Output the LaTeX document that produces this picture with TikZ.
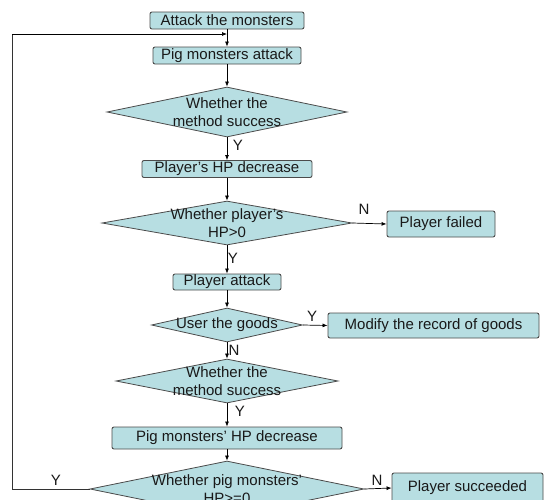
\documentclass[tikz,border=0pt]{standalone}
\usepackage{fontspec}
\setmainfont{Liberation Sans}
\usetikzlibrary{shapes.geometric,arrows.meta}
\definecolor{boxfill}{RGB}{183,222,226}
\definecolor{boxline}{RGB}{75,75,75}
\definecolor{txt}{RGB}{25,25,25}
\begin{document}
\begin{tikzpicture}[x=1pt,y=-1pt,
  every node/.style={font=\fontsize{15}{18}\selectfont, text=txt},
  procbox/.style={draw=boxline, fill=boxfill, line width=0.9pt, rounded corners=2pt, inner sep=0pt},
  decbox/.style={draw=boxline, fill=boxfill, line width=0.8pt, diamond, inner sep=0pt},
  dtext/.style={align=center, inner sep=0pt},
  lbl/.style={inner sep=0pt},
  arr/.style={draw=black, line width=0.7pt, -{Latex[length=5pt,width=4pt]}},
  ln/.style={draw=black!80, line width=0.9pt}]
\useasboundingbox (0,0) rectangle (544,499);
\clip (0,0) rectangle (544,499);
\fill[white] (0,0) rectangle (544,499);

\node[procbox, minimum width=154pt, minimum height=17pt] (a1) at (227,20.5) {Attack the monsters};
\node[procbox, minimum width=148pt, minimum height=17pt] (a2) at (227,55.5) {Pig monsters attack};
\node[decbox, minimum width=240pt, minimum height=50pt] (d1) at (227,112) {};
\node[dtext] (t1) at (d1) {Whether the\\method success};
\node[procbox, minimum width=170pt, minimum height=17pt] (b1) at (227,169) {Player’s HP decrease};
\node[decbox, minimum width=250pt, minimum height=44pt] (d2) at (227,223) {};
\node[dtext] (t2) at (d2) {Whether player’s\\HP>0};
\node[procbox, minimum width=108pt, minimum height=26pt] (f) at (441,224) {Player failed};
\node[procbox, minimum width=108pt, minimum height=16pt] (b2) at (227,282) {Player attack};
\node[decbox, minimum width=151pt, minimum height=34pt] (d3) at (227,325) {};
\node[dtext] (t3) at (d3) {User the goods};
\node[procbox, minimum width=211pt, minimum height=25pt] (m) at (433.5,325.5) {Modify the record of goods};
\node[decbox, minimum width=222pt, minimum height=44pt] (d4) at (227,381) {};
\node[dtext] (t4) at (d4) {Whether the\\method success};
\node[procbox, minimum width=230pt, minimum height=22pt] (b3) at (227,438) {Pig monsters’ HP decrease};
\node[decbox, minimum width=274pt, minimum height=56pt] (d5) at (227,489) {};
\node[dtext] (t5) at (d5) {Whether pig monsters’\\HP>=0};
\node[procbox, minimum width=151pt, minimum height=30pt] (s) at (467.5,488) {Player succeeded};

\coordinate (j) at (227,34);
\coordinate (c1) at (12,489);
\coordinate (c2) at (12,34);

\draw[arr] (a1.south) -- (a2.north);
\draw[arr] (a2.south) -- (d1.north);
\draw[arr] (d1.south) -- (b1.north);
\draw[arr] (b1.south) -- (d2.north);
\draw[arr] (d2.east) -- (f.west);
\draw[arr] (d2.south) -- (b2.north);
\draw[arr] (b2.south) -- (d3.north);
\draw[arr] (d3.east) -- (m.west);
\draw[arr] (d3.south) -- (d4.north);
\draw[arr] (d4.south) -- (b3.north);
\draw[arr] (b3.south) -- (d5.north);
\draw[arr] (d5.east) -- (s.west);
\draw[ln] (d5.west) -- (c1) -- (c2);
\draw[arr] (c2) -- (j);

\node[lbl] (y1) at (238,145) {Y};
\node[lbl] (n1) at (364,209) {N};
\node[lbl] (y2) at (233,258) {Y};
\node[lbl] (y3) at (312,316) {Y};
\node[lbl] (n2) at (234,350) {N};
\node[lbl] (y4) at (240,411) {Y};
\node[lbl] (y5) at (56,480) {Y};
\node[lbl] (n3) at (377,480) {N};
\end{tikzpicture}
\end{document}
